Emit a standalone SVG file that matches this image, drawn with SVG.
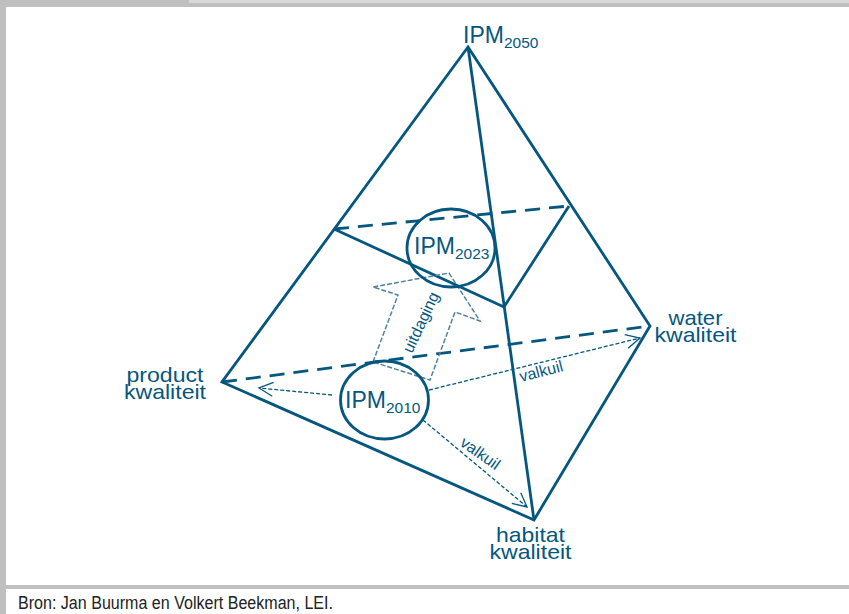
<svg xmlns="http://www.w3.org/2000/svg" width="849" height="614" viewBox="0 0 849 614">
<style>
.f{fill:#bfbfbf}
text{font-family:"Liberation Sans",Arial,sans-serif;fill:#05577f}
.lab{font-size:21px}
.ipm{font-size:23px}
.sub{font-size:15.5px}
.sm{font-size:16px}
.s{fill:none;stroke:#05577f;stroke-width:2.8}
.d{fill:none;stroke:#05577f;stroke-width:2.8;stroke-dasharray:15 9}
.t{fill:none;stroke:#05577f;stroke-width:1.3;stroke-dasharray:4 2}
.a{fill:none;stroke:#4f82a3;stroke-width:1.5;stroke-dasharray:5 2}
.c{fill:none;stroke:#05577f;stroke-width:2.8}
</style>
<defs>
<marker id="arr" markerUnits="userSpaceOnUse" markerWidth="18" markerHeight="18" refX="15" refY="8" orient="auto">
<path d="M1 1L15 8L1 15" fill="none" stroke="#05577f" stroke-width="1.3"/>
</marker>
</defs>
<rect width="849" height="614" fill="#fff"/>
<g id="frame">
<rect class="f" x="0" y="0" width="849" height="7"/>
<rect x="189" y="0" width="660" height="3" fill="#d9d9d9"/>
<rect class="f" x="0" y="0" width="6" height="614"/>
<rect class="f" x="0" y="585" width="849" height="4"/>
</g>
<g id="connectors">
<path class="s" d="M468 47L222 382L534 520L650 326Z"/>
<path class="s" d="M468 47L534 520"/>
<path class="d" d="M222 382L650 326"/>
<path class="s" d="M334 229L504 307L569 206"/>
<path class="d" d="M334 229L569 206"/>
<path class="a" d="M373 362L398 295L373 287L449 273L480 321L455 312L430 380Z"/>
<path class="t" d="M332 395L259 388" marker-end="url(#arr)"/>
<path class="t" d="M429 390L640 338" marker-end="url(#arr)"/>
<path class="t" d="M423 420L527 507" marker-end="url(#arr)"/>
</g>
<g id="ipm2050"><text class="ipm" x="463" y="43">IPM<tspan class="sub" dy="5">2050</tspan></text></g>
<g id="ipm2023"><ellipse class="c" cx="451" cy="248" rx="44" ry="39"/><text class="ipm" x="414" y="254">IPM<tspan class="sub" dy="5">2023</tspan></text></g>
<g id="ipm2010"><ellipse class="c" cx="384.500" cy="400" rx="44" ry="39"/><text class="ipm" x="345" y="408">IPM<tspan class="sub" dy="5">2010</tspan></text></g>
<g id="product"><text class="lab" text-anchor="middle" x="165" y="382" textLength="77" lengthAdjust="spacingAndGlyphs">product</text><text class="lab" text-anchor="middle" x="165" y="399" textLength="82" lengthAdjust="spacingAndGlyphs">kwaliteit</text></g>
<g id="water"><text class="lab" text-anchor="middle" x="695.500" y="325" textLength="54" lengthAdjust="spacingAndGlyphs">water</text><text class="lab" text-anchor="middle" x="695.500" y="342" textLength="82" lengthAdjust="spacingAndGlyphs">kwaliteit</text></g>
<g id="habitat"><text class="lab" text-anchor="middle" x="530.500" y="542" textLength="69" lengthAdjust="spacingAndGlyphs">habitat</text><text class="lab" text-anchor="middle" x="530.500" y="559" textLength="82" lengthAdjust="spacingAndGlyphs">kwaliteit</text></g>
<g id="uitdaging"><text class="sm" transform="translate(412 354) rotate(-65)">uitdaging</text></g>
<g id="valkuil1"><text class="sm" transform="translate(521 382) rotate(-14.500)">valkuil</text></g>
<g id="valkuil2"><text class="sm" transform="translate(459 445) rotate(35)">valkuil</text></g>
<g id="source"><text x="18" y="609" font-size="17.500" textLength="315" lengthAdjust="spacingAndGlyphs" style="fill:#222">Bron: Jan Buurma en Volkert Beekman, LEI.</text></g>
</svg>
